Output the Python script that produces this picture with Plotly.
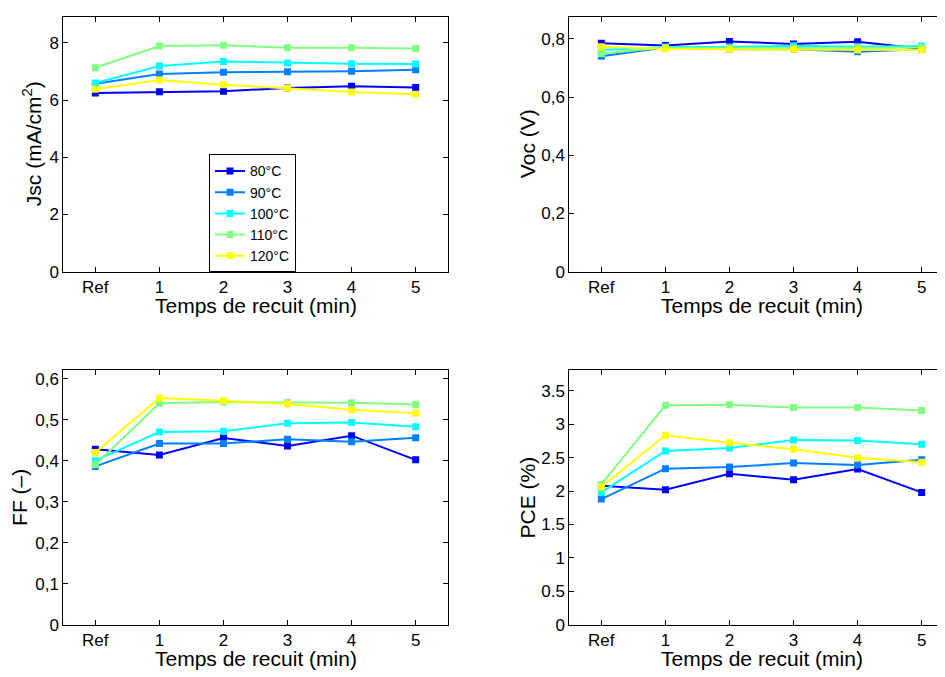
import plotly.graph_objects as go

# The page body keeps its default 8 px margin; the figure fills the rest of the 945x677 window.
OFF = 8
W, H = 945 - OFF, 677 - OFF

categories = ["Ref", "1", "2", "3", "4", "5"]
series_names = ["80°C", "90°C", "100°C", "110°C", "120°C"]
colors = ["#0000FF", "#0080FF", "#00FFFF", "#80FF80", "#FFFF00"]

jsc_80 = [6.25, 6.29, 6.31, 6.42, 6.48, 6.44]
jsc_90 = [6.57, 6.91, 6.97, 6.99, 7.01, 7.06]
jsc_100 = [6.60, 7.19, 7.35, 7.30, 7.27, 7.26]
jsc_110 = [7.13, 7.89, 7.92, 7.83, 7.83, 7.80]
jsc_120 = [6.38, 6.70, 6.54, 6.41, 6.28, 6.20]

voc_80 = [0.785, 0.777, 0.791, 0.782, 0.790, 0.766]
voc_90 = [0.740, 0.770, 0.764, 0.764, 0.756, 0.764]
voc_100 = [0.762, 0.772, 0.772, 0.776, 0.773, 0.775]
voc_110 = [0.750, 0.770, 0.768, 0.768, 0.770, 0.770]
voc_120 = [0.773, 0.766, 0.764, 0.764, 0.762, 0.762]

ff_80 = [0.428, 0.414, 0.455, 0.436, 0.461, 0.402]
ff_90 = [0.386, 0.442, 0.442, 0.452, 0.446, 0.456]
ff_100 = [0.400, 0.470, 0.472, 0.491, 0.493, 0.483]
ff_110 = [0.390, 0.540, 0.543, 0.542, 0.541, 0.537]
ff_120 = [0.420, 0.553, 0.546, 0.538, 0.524, 0.516]

pce_80 = [2.08, 2.02, 2.26, 2.17, 2.33, 1.98]
pce_90 = [1.88, 2.335, 2.36, 2.42, 2.39, 2.47]
pce_100 = [1.98, 2.60, 2.645, 2.763, 2.758, 2.70]
pce_110 = [2.10, 3.284, 3.294, 3.25, 3.25, 3.205]
pce_120 = [2.06, 2.837, 2.724, 2.625, 2.50, 2.43]

jsc_ticks = [0, 2, 4, 6, 8]
jsc_ticktext = ["0", "2", "4", "6", "8"]
voc_ticks = [0, 0.2, 0.4, 0.6, 0.8]
voc_ticktext = ["0", "0,2", "0,4", "0,6", "0,8"]
ff_ticks = [0, 0.1, 0.2, 0.3, 0.4, 0.5, 0.6]
ff_ticktext = ["0", "0,1", "0,2", "0,3", "0,4", "0,5", "0,6"]
pce_ticks = [0, 0.5, 1, 1.5, 2, 2.5, 3, 3.5]
pce_ticktext = ["0", "0.5", "1", "1.5", "2", "2.5", "3", "3.5"]

xtitle = "Temps de recuit (min)"
ytitles = ["Jsc (mA/cm<sup>2</sup>)", "Voc (V)", "FF (–)", "PCE (%)"]

FONT = "Liberation Sans, Arial, Helvetica, sans-serif"

panels = [
    ([jsc_80, jsc_90, jsc_100, jsc_110, jsc_120], jsc_ticks, jsc_ticktext, [0, 8.92]),
    ([voc_80, voc_90, voc_100, voc_110, voc_120], voc_ticks, voc_ticktext, [0, 0.8765]),
    ([ff_80, ff_90, ff_100, ff_110, ff_120], ff_ticks, ff_ticktext, [0, 0.6207]),
    ([pce_80, pce_90, pce_100, pce_110, pce_120], pce_ticks, pce_ticktext, [0, 3.81]),
]

# pixel geometry, in window pixels
left_x = (63.3, 447.7)
right_x = (569.3, 945.0)
top_y = (16.7, 275.7)
bot_y = (375.7, 634.0)
unit_px = (447.7 - 63.3) / 6.0
right_range = [-0.5, -0.5 + (right_x[1] - right_x[0]) / unit_px]

def fx(px):
    return (px - OFF) / W

def fy(py):
    return 1 - (py - OFF) / H

geoms = [
    (left_x, top_y, [-0.5, 5.5], True),
    (right_x, top_y, right_range, False),
    (left_x, bot_y, [-0.5, 5.5], True),
    (right_x, bot_y, right_range, False),
]

xvals = list(range(len(categories)))

fig = go.Figure()
layout = dict(
    width=W, height=H,
    margin=dict(l=0, r=0, t=0, b=0),
    paper_bgcolor="white", plot_bgcolor="white",
    font=dict(family=FONT, size=17, color="black"),
    showlegend=True,
)

for i, ((series, tv, tt, yr), (gx, gy, xr, full_box)) in enumerate(zip(panels, geoms)):
    n = "" if i == 0 else str(i + 1)
    for j, vals in enumerate(series):
        fig.add_trace(go.Scatter(
            x=xvals, y=vals, mode="lines+markers",
            name=series_names[j],
            line=dict(color=colors[j], width=2),
            marker=dict(symbol="square", size=7, color=colors[j]),
            xaxis="x" + n, yaxis="y" + n,
            showlegend=(i == 0),
        ))
    layout["xaxis" + n] = dict(
        domain=[max(0, fx(gx[0])), min(1, fx(gx[1]))], range=xr, anchor="y" + n,
        tickvals=xvals, ticktext=categories,
        ticks="inside", ticklen=5, tickcolor="black", tickwidth=1,
        showline=True, linecolor="black", linewidth=1, mirror="ticks",
        showgrid=False, zeroline=False,
        tickfont=dict(size=17),
    )
    layout["yaxis" + n] = dict(
        domain=[fy(gy[1]), fy(gy[0])], range=yr, anchor="x" + n,
        tickvals=tv, ticktext=tt,
        ticks="inside", ticklen=5, tickcolor="black", tickwidth=1,
        showline=True, linecolor="black", linewidth=1,
        mirror="ticks" if full_box else False,
        showgrid=False, zeroline=False,
        tickfont=dict(size=17),
    )

annotations = []
# x titles
for (gx, gy, xr, full_box) in geoms:
    if full_box:
        cx = (gx[0] + gx[1]) / 2
    else:
        cx = gx[0] + (2.5 - xr[0]) * unit_px
    cy = gy[1] + 34.5
    annotations.append(dict(
        text=xtitle, x=fx(cx), y=fy(cy), xref="paper", yref="paper",
        xanchor="center", yanchor="middle", showarrow=False,
        font=dict(size=21, family=FONT, color="black"),
    ))
# y titles
ytitle_x = [32.0, 527.0, 19.5, 527.0]
for k, (gx, gy, xr, full_box) in enumerate(geoms):
    cy = (gy[0] + gy[1]) / 2
    annotations.append(dict(
        text=ytitles[k], x=fx(ytitle_x[k]), y=fy(cy), xref="paper", yref="paper",
        xanchor="center", yanchor="middle", showarrow=False, textangle=-90,
        font=dict(size=21, family=FONT, color="black"),
    ))
layout["annotations"] = annotations

layout["legend"] = dict(
    x=fx(209), y=fy(216.5), xanchor="left", yanchor="middle",
    bgcolor="white", bordercolor="black", borderwidth=1,
    font=dict(size=14, family=FONT, color="black"),
    tracegroupgap=0,
)

fig.update_layout(**layout)
fig.write_html("out.html")
